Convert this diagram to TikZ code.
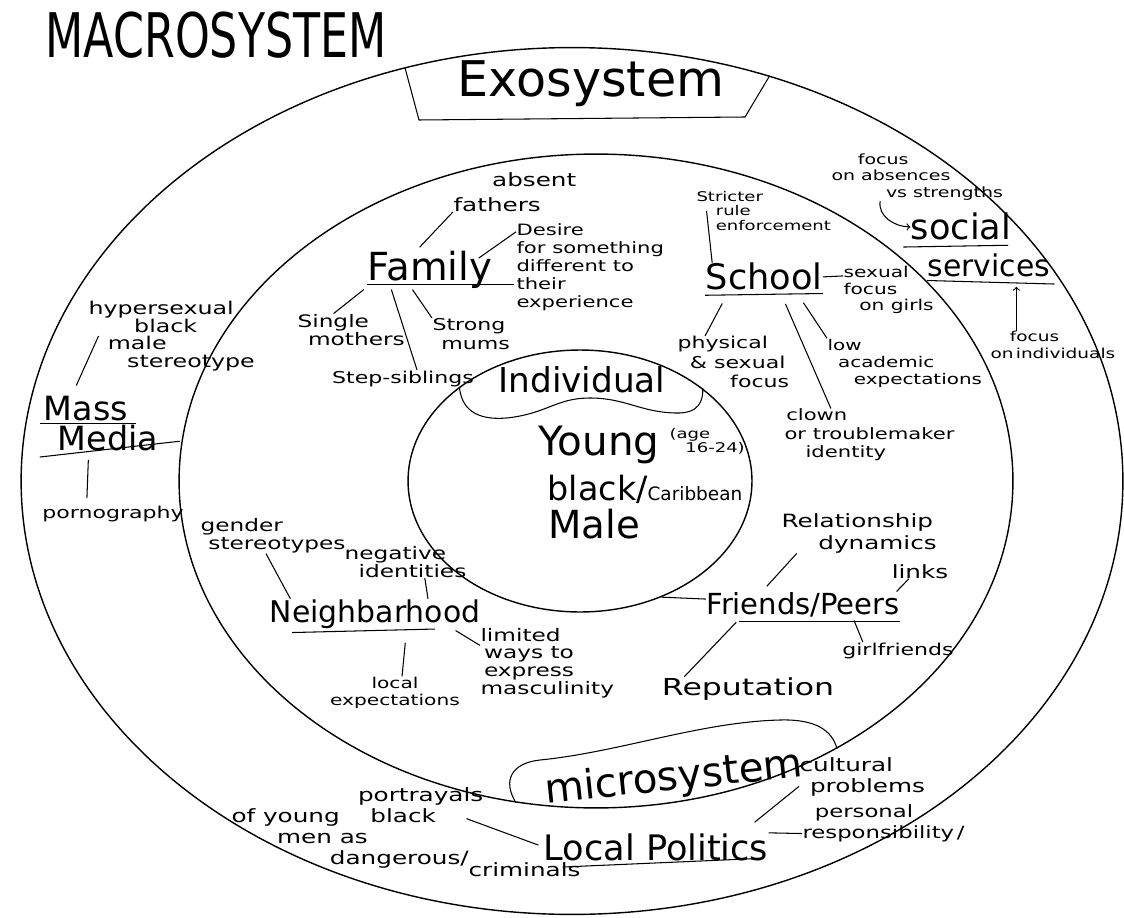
\documentclass[tikz,border=0pt]{standalone}
\usepackage{fontspec}
\setmainfont{DejaVu Sans}
\newfontfamily\hand{DejaVu Sans}[FakeStretch=1.35]
\newfontfamily\tallcaps{DejaVu Sans}[FakeStretch=0.72]
\usepackage{tikz}
\usetikzlibrary{shapes.geometric}
\newcommand{\fsz}[2]{\fontsize{#1}{#2}\selectfont}
\lineskiplimit=-20pt

\begin{document}
\begin{tikzpicture}[x=0.02cm,y=-0.02cm,line width=0.6pt,
  lbl/.style={inner sep=0pt,align=left},
  word/.style={inner sep=0pt,anchor=base},
  ring/.style={draw,ellipse,inner sep=0pt,line width=0.8pt}]
\useasboundingbox (0,0) rectangle (1124,918);
\node[ring,minimum width=22.04cm,minimum height=17.34cm] (outer) at (572,481) {};
\node[ring,minimum width=16.68cm,minimum height=13.08cm] (mid) at (596,481) {};
\node[ring,minimum width=6.88cm,minimum height=5.24cm] (inner) at (580,481) {};
\draw (outer.112) -- (419,120) -- (745,117) -- (outer.64);
\draw (inner.142) .. controls (462,418) and (490,422) .. (520,416) .. controls (550,410) and (560,398) .. (590,398) .. controls (625,398) and (640,412) .. (675,413) .. controls (700,414) and (703,400) .. (inner.37);
\draw (mid.256) .. controls (502,780) and (512,763) .. (540,760) .. controls (620,752) and (700,722) .. (780,720) .. controls (815,719) and (832,730) .. (mid.-48);

\node[word,font=\tallcaps\fsz{35}{35}] (macro) at (216,58) {MACROSYSTEM};
\node[word,font=\fsz{28}{28}] (exo) at (591,97) {Exosystem};
\node[word,font=\fsz{19.5}{19.5}] (indiv) at (582,392) {Individual};
\node[word,font=\fsz{23}{23},rotate=6] (micro) at (675,790) {microsystem};

\node[word,font=\fsz{23}{23}] (young) at (599,455) {Young};
\node[lbl,font=\hand\fsz{7.6}{8},anchor=west] (age) at (669,441) {(age\\\hspace*{9pt}16-24)};
\node[word,font=\fsz{19}{19}] (blk) at (645,500) {black/{\fsz{10.5}{10.5}Caribbean}};
\node[word,font=\fsz{22}{22}] (male) at (594,538) {Male};

\node[word,font=\fsz{22}{22}] (fam) at (430,281) {Family};
\node[lbl,font=\hand\fsz{10.4}{14},anchor=west] (absent) at (453,192) {\hspace*{22pt}absent\\fathers};
\node[lbl,font=\hand\fsz{8.9}{10.2},anchor=west] (desire) at (516,267) {Desire\\for something\\different to\\their\\experience};
\node[lbl,font=\hand\fsz{9.8}{10.5},anchor=west] (single) at (297,330) {Single\\\hspace*{6pt}mothers};
\node[lbl,font=\hand\fsz{9.3}{10.5},anchor=west] (strong) at (432,334) {Strong\\\hspace*{5pt}mums};
\node[word,font=\hand\fsz{9.3}{9.3}] (step) at (403,383) {Step-siblings};
\draw[shorten <=3pt] ([xshift=-8pt]fam.north) -- (absent.south west);
\draw ([xshift=-8pt,yshift=-4pt]fam.north east) -- ([yshift=-5pt]desire.north west);
\draw ([xshift=-2pt]fam.south west) -- ([xshift=-10pt]single.north);
\draw ([xshift=-10pt]fam.south) -- (strong.north west);
\draw ([xshift=-22pt]fam.south) -- ([xshift=8pt]step.north);
\draw ([yshift=-2pt]fam.base west) -- ([xshift=12pt,yshift=-2pt]fam.base east);

\node[word,font=\fsz{20}{20}] (school) at (764,290) {School};
\node[lbl,font=\hand\fsz{7.6}{8},anchor=west] (strict) at (696,211) {Stricter\\\hspace*{11pt}rule\\\hspace*{11pt}enforcement};
\node[lbl,font=\hand\fsz{8.5}{9.5},anchor=west] (sexual) at (843,290) {sexual\\focus\\\hspace*{9pt}on girls};
\node[lbl,font=\hand\fsz{9.3}{11},anchor=west] (physical) at (677,362) {physical\\\hspace*{7pt}\& sexual\\\hspace*{30pt}focus};
\node[lbl,font=\hand\fsz{8.4}{9.7},anchor=west] (low) at (827,363) {low\\\hspace*{6pt}academic\\\hspace*{15pt}expectations};
\node[lbl,font=\hand\fsz{8.9}{10.5},anchor=west] (clown) at (784,435) {\hspace*{1pt}clown\\or troublemaker\\\hspace*{12pt}identity};
\draw ([yshift=-3pt]school.base west) -- ([yshift=-2pt]school.base east);
\draw (school.east) -- ([yshift=8pt]sexual.west);
\draw ([xshift=6pt]strict.west) -- ([xshift=4pt]school.north west);
\draw[shorten <=8pt] ([xshift=-20pt]school.south) -- ([xshift=16pt]physical.north west);
\draw[shorten <=8pt] ([xshift=18pt]school.south) -- (low.north west);
\draw[shorten <=8pt] ([xshift=9pt]school.south) -- ([xshift=-22pt]clown.north);

\node[lbl,font=\hand\fsz{8}{9.5},anchor=west] (focusabs) at (831,177) {\hspace*{15pt}focus\\on absences\\\hspace*{31pt}vs strengths};
\node[word,font=\fsz{20}{20}] (social) at (961,240) {social};
\node[word,font=\fsz{17}{17}] (services) at (989,277) {services};
\node[lbl,font=\hand\fsz{7.8}{9.5},anchor=west] (focusind) at (990,345) {\hspace*{11pt}focus\\on\,individuals};
\coordinate (fi) at ([xshift=15pt]focusind.north west);
\draw[->] ([xshift=28pt]focusabs.south west) to[out=-100,in=180] (social.west);
\draw ([xshift=-4pt,yshift=-4pt]social.base west) -- ([xshift=-2pt,yshift=-3pt]social.base east);
\draw ([yshift=-2pt]services.base west) -- ([xshift=2pt,yshift=-4pt]services.base east);
\draw[->,shorten >=5pt] (fi) -- (fi |- services.south);

\node[word,font=\fsz{19}{19}] (mass) at (86,420) {Mass};
\node[word,font=\fsz{19}{19}] (media) at (108,450) {Media};
\node[lbl,font=\hand\fsz{10}{10},anchor=west] (hyper) at (88,336) {hypersexual\\\hspace*{26pt}black\\\hspace*{11pt}male\\\hspace*{22pt}stereotype};
\node[word,font=\hand\fsz{9.3}{9.3}] (porn) at (113,518) {pornography};
\draw ([xshift=-2pt,yshift=-2pt]mass.base west) -- ([xshift=4pt,yshift=-2pt]mass.base east);
\draw ([xshift=-10pt,yshift=-4pt]media.base west) -- ([xshift=12pt,yshift=5pt]media.base east);
\draw[shorten <=6pt] ([xshift=-8pt]mass.north) -- ([xshift=6pt]hyper.west);
\draw[shorten <=5pt,shorten >=4pt] ([xshift=-11pt]media.south) -- ([xshift=-15pt]porn.north);

\node[word,font=\fsz{17}{17}] (neigh) at (375,622) {Neighbarhood};
\node[lbl,font=\hand\fsz{9.8}{10},anchor=west] (gender) at (200,536) {gender\\\hspace*{4.5pt}stereotypes};
\node[lbl,font=\hand\fsz{9.8}{10},anchor=west] (negative) at (344,562) {negative\\\hspace*{8pt}identities};
\node[lbl,font=\hand\fsz{8.5}{10},align=center] (local) at (395,693) {local\\expectations};
\node[lbl,font=\hand\fsz{9.8}{10},anchor=west] (limited) at (480,663) {limited\\\hspace*{2pt}ways to\\\hspace*{2pt}express\\masculinity};
\draw ([xshift=-4pt]gender.south) -- ([xshift=12pt]neigh.north west);
\draw ([xshift=11pt]negative.south) -- ([xshift=-30pt]neigh.north east);
\draw ([xshift=13pt,yshift=-6pt]neigh.base west) -- ([xshift=-26pt,yshift=-4pt]neigh.base east);
\draw[shorten <=8pt] ([xshift=18pt]neigh.south) -- ([xshift=4pt]local.north);
\draw[shorten <=2pt] ([xshift=-16pt]neigh.south east) -- ([yshift=10pt]limited.west);

\node[word,font=\fsz{16.5}{16.5}] (friends) at (803,614) {Friends/Peers};
\node[lbl,font=\hand\fsz{10.4}{12.5},anchor=west] (relat) at (781,533) {Relationship\\\hspace*{21pt}dynamics};
\node[word,font=\hand\fsz{10.4}{10.4}] (links) at (920,578) {links};
\node[word,font=\hand\fsz{9.3}{9.3}] (girl) at (898,655) {girlfriends};
\node[word,font=\hand\fsz{13.3}{13.3}] (reput) at (748,695) {Reputation};
\draw ([xshift=19pt,yshift=-4pt]friends.base west) -- ([yshift=-4pt]friends.base east);
\draw (inner.-55) -- ([yshift=3pt]friends.west);
\draw[shorten >=4pt] ([xshift=9pt]relat.south west) -- ([xshift=32pt]friends.north west);
\draw ([xshift=10pt]links.south west) -- ([xshift=-2pt]friends.north east);
\draw[shorten <=2pt] ([xshift=-27pt]friends.south east) -- ([xshift=-20pt]girl.north);
\draw[shorten <=4pt] ([xshift=20pt]friends.south west) -- ([xshift=13pt]reput.north west);

\node[word,font=\fsz{20}{20}] (politics) at (656,860) {Local Politics};
\node[lbl,font=\hand\fsz{10.4}{12},anchor=north west] (port) at (231,787) {\hspace*{72pt}portrayals\\of young\hspace{13pt} black\\\hspace*{26pt}men as\\\hspace*{56pt}dangerous/\raisebox{-7pt}{criminals}};
\node[lbl,font=\hand\fsz{10.4}{12},anchor=west] (cultural) at (799,777) {cultural\\\hspace*{6pt}problems};
\node[lbl,font=\hand\fsz{9.6}{12},anchor=west] (personal) at (802,823) {\hspace*{7pt}personal\\responsibility\,/};
\draw ([xshift=11pt,yshift=-4pt]politics.base west) -- ([xshift=-3pt,yshift=1pt]politics.base east);
\draw[shorten >=3pt] ([xshift=134pt,yshift=-18pt]port.north west) -- (politics.west);
\draw ([yshift=6pt]cultural.south west) -- ([xshift=-8pt,yshift=6pt]politics.north east);
\draw ([yshift=8pt]politics.east) -- ([yshift=-6pt]personal.west);
\end{tikzpicture}
\end{document}
